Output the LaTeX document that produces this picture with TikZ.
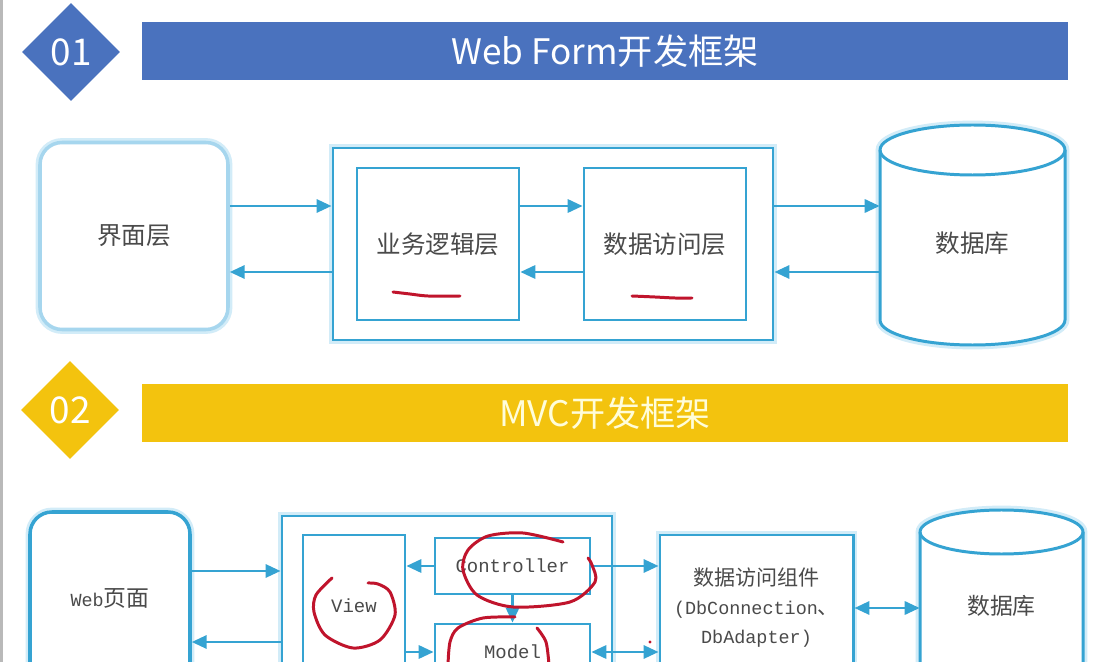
\documentclass[tikz,border=0pt]{standalone}
\usepackage{fontspec}
\setmainfont{Noto Sans CJK SC}
\newfontfamily\latinmono{Liberation Mono}
\usepackage{tikz}
\usetikzlibrary{shapes.geometric,arrows.meta}
\newlength\px
\setlength\px{0.02cm}
\definecolor{hdblue}{HTML}{4A72BE}
\definecolor{hdgold}{HTML}{F3C30E}
\definecolor{lineblue}{HTML}{35A3D2}
\definecolor{glowblue}{HTML}{D2ECF8}
\definecolor{paleblue}{HTML}{A6D6EE}
\definecolor{textgray}{HTML}{4A4A4A}
\definecolor{penred}{HTML}{C0142C}

\begin{document}
\begin{tikzpicture}[x=1\px, y=-1\px,
  hdmark/.style={diamond, aspect=1, inner sep=0, minimum width=98\px, minimum height=98\px,
                 text=white, font=\fontsize{21}{21}\selectfont},
  hdbar/.style={rectangle, inner sep=0, minimum width=926\px, minimum height=58\px,
                text=white, font=\fontsize{20}{20}\selectfont},
  glow/.style={preaction={draw=glowblue, line width=5pt}},
  uibox/.style={draw=paleblue, line width=2pt, rounded corners=22\px, fill=white, glow,
                inner sep=0, text=textgray, font=\fontsize{14}{16}\selectfont},
  wrapbox/.style={draw=lineblue, line width=1.7pt, fill=white, glow, inner sep=0},
  layerbox/.style={draw=lineblue, line width=1.6pt, fill=white, inner sep=0,
                   text=textgray, font=\fontsize{14}{16}\selectfont},
  smallbox/.style={layerbox, font=\fontsize{12}{16.5}\selectfont},
  dbline/.style={draw=lineblue, line width=1.7pt},
  dbtext/.style={inner sep=0, text=textgray},
  flow/.style={draw=lineblue, line width=1.5pt, -{Triangle[length=8.5pt, width=7.5pt]}},
  flowboth/.style={draw=lineblue, line width=1.5pt,
                   {Triangle[length=8.5pt, width=7.5pt]}-{Triangle[length=8.5pt, width=7.5pt]}},
  redpen/.style={draw=penred, line width=1.7pt, line cap=round, line join=round}
]
\fill[white] (0,0) rectangle (1103,662);
\path[use as bounding box, clip] (0,0) rectangle (1103,662);
\fill[gray!55] (0,0) rectangle (3,662);

% 01 header
\node[hdmark, fill=hdblue] (n1) at (71,52) {01};
\node[hdbar, fill=hdblue] (t1) at (605,51) {Web Form开发框架};

% Web Form layers
\node[uibox, minimum width=188\px, minimum height=187\px] (ui) at (134,236) {界面层};
\node[wrapbox, minimum width=440\px, minimum height=192\px] (wrap1) at (553,244) {};
\node[layerbox, minimum width=162\px, minimum height=152\px] (bll) at (438,244) {业务逻辑层};
\node[layerbox, minimum width=162\px, minimum height=152\px] (dal) at (665,244) {数据访问层};
% database 1
\path[dbline, fill=white, glow] (880,150) arc[start angle=180, end angle=0, x radius=92.5\px, y radius=25\px]
  -- (1065,320) arc[start angle=0, end angle=-180, x radius=92.5\px, y radius=25\px] -- cycle;
\draw[dbline] (880,150) arc[start angle=180, end angle=360, x radius=92.5\px, y radius=25\px];
\node[dbtext, minimum width=185\px, minimum height=236\px, font=\fontsize{14}{16}\selectfont] (db1) at (972.5,243) {数据库};

\draw[flow] (ui.east |- 0,206) -- (wrap1.west |- 0,206);
\draw[flow] (wrap1.west |- 0,272) -- (ui.east |- 0,272);
\draw[flow] (bll.east |- 0,206) -- (dal.west |- 0,206);
\draw[flow] (dal.west |- 0,272) -- (bll.east |- 0,272);
\draw[flow] (wrap1.east |- 0,206) -- (db1.west |- 0,206);
\draw[flow] (db1.west |- 0,272) -- (wrap1.east |- 0,272);

% 02 header
\node[hdmark, fill=hdgold] (n2) at (70,410) {02};
\node[hdbar, fill=hdgold, text=white!85!yellow] (t2) at (605,413) {MVC开发框架};

% MVC layers
\node[uibox, draw=lineblue, minimum width=160\px, minimum height=172\px,
      font=\fontsize{13}{16}\selectfont] (web) at (110,598) {{\latinmono\fontsize{10.5}{16}\selectfont Web}页面};
\node[wrapbox, minimum width=330\px, minimum height=168\px] (wrap2) at (447,600) {};
\node[layerbox, minimum width=102\px, minimum height=142\px] (view) at (354,606)
  {\latinmono\fontsize{10.8}{16}\selectfont View};
\node[layerbox, minimum width=155\px, minimum height=56\px] (ctrl) at (512.5,566)
  {\latinmono\fontsize{10.8}{16}\selectfont Controller};
\node[layerbox, minimum width=155\px, minimum height=56\px] (model) at (512.5,652)
  {\latinmono\fontsize{10.8}{16}\selectfont Model};
\node[smallbox, wrapbox, text=textgray, minimum width=193\px, minimum height=146\px, align=center] (dac) at (756.5,608)
  {数据访问组件\\{\latinmono\fontsize{10.5}{16.5}\selectfont(DbConnection}、\\{\latinmono\fontsize{10.5}{16.5}\selectfont DbAdapter)}};
% database 2
\path[dbline, fill=white, glow] (920,532) arc[start angle=180, end angle=0, x radius=81.5\px, y radius=22\px]
  -- (1083,740) -- (920,740) -- cycle;
\draw[dbline] (920,532) arc[start angle=180, end angle=360, x radius=81.5\px, y radius=22\px];
\node[dbtext, minimum width=163\px, minimum height=192\px, font=\fontsize{13}{16}\selectfont] (db2) at (1001.5,606) {数据库};

\draw[flow] (web.east |- 0,571) -- (wrap2.west |- 0,571);
\draw[flow] (wrap2.west |- 0,642) -- (web.east |- 0,642);
\draw[flow] (ctrl.west) -- (view.east |- ctrl.west);
\draw[flow] (ctrl.south) -- (model.north);
\draw[flow] (view.east |- model.west) -- (model.west);
\draw[flow] (ctrl.east) -- (dac.west |- ctrl.east);
\draw[flowboth] (model.east) -- (dac.west |- model.east);
\draw[flowboth] (dac.east) -- (db2.west |- dac.east);

% red pen marks
\draw[redpen] plot[smooth] coordinates {(393,292) (410,294) (428,296) (460,296)};
\draw[redpen] plot[smooth] coordinates {(632,296) (655,297) (675,298) (692,298)};
\draw[redpen] plot[smooth] coordinates {(332,578) (316,595) (314,612) (325,635) (353,648) (380,640) (395,615) (390,592) (378,584) (368,583)};
\draw[redpen] plot[smooth] coordinates {(563,542) (523,533) (488,536) (468,550) (463,570) (477,595) (513,607) (570,602) (595,582) (592,565) (588,558)};
\draw[redpen] plot[smooth] coordinates {(515,617) (483,618) (458,628) (450,642) (448,665)};
\draw[redpen] plot[smooth] coordinates {(537,628) (546,642) (549,665)};
\fill[penred] (650,642) circle[radius=1.6\px];
\end{tikzpicture}
\end{document}
